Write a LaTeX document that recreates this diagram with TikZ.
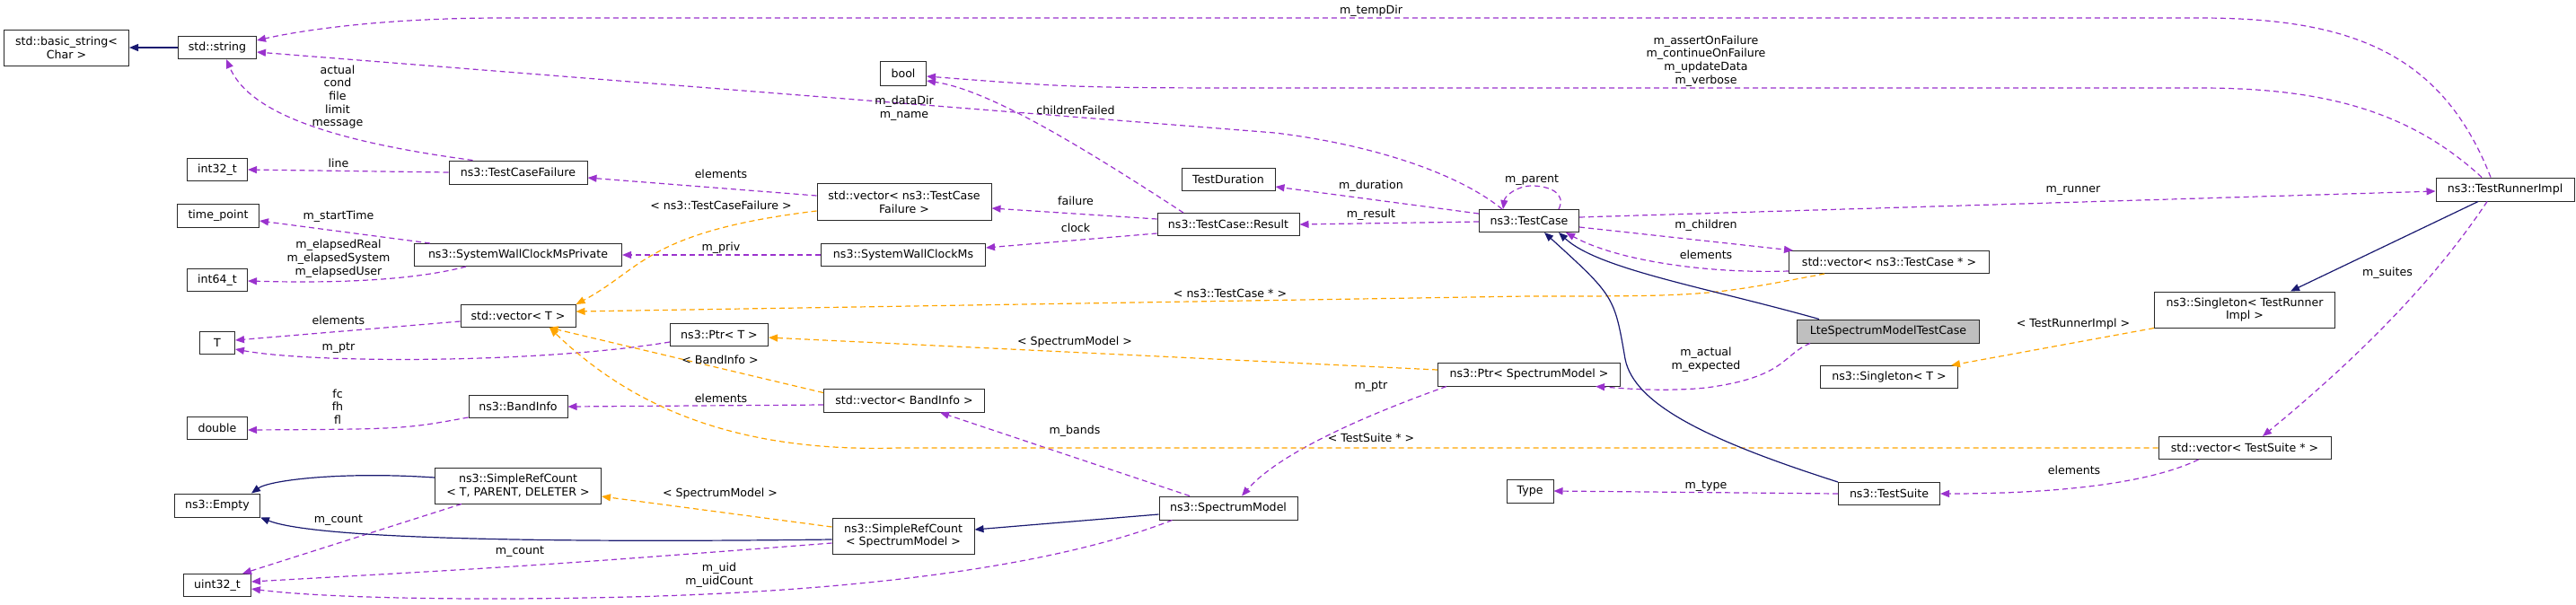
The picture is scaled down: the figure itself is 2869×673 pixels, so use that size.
\documentclass[tikz,border=0pt]{standalone}
\usepackage{fontspec}
\setmainfont{DejaVu Sans}
\usetikzlibrary{arrows.meta,calc}
\definecolor{use}{HTML}{9A32CD}
\definecolor{tpl}{HTML}{FFA500}
\definecolor{inh}{HTML}{191970}
\begin{document}
\begin{tikzpicture}[x=1pt,y=-1pt,
  every node/.style={font=\fontsize{12.6}{14.7}\selectfont},
  box/.style={draw={rgb,255:red,40;green,40;blue,40},line width=1pt,fill=white,inner sep=0pt,align=center},
  lbl/.style={inner sep=0pt,align=center,fill=none},
  us/.style={draw=use,line width=1.2pt,dash pattern=on 6pt off 4pt,-{Triangle[length=10pt,width=8pt]}},
  tp/.style={draw=tpl,line width=1.2pt,dash pattern=on 6pt off 4pt,-{Triangle[length=10pt,width=8pt]}},
  ih/.style={draw=inh,line width=1.2pt,-{Triangle[length=10pt,width=8pt]}}]
\useasboundingbox (0,0) rectangle (2869,673);
% nodes
\node[box,minimum width=139,minimum height=40] (bs) at (74,53) {std::basic\_string\textless\\Char \textgreater};
\node[box,minimum width=87,minimum height=25] (str) at (242,53) {std::string};
\node[box,minimum width=67,minimum height=25] (i32) at (242,189) {int32\_t};
\node[box,minimum width=154,minimum height=26] (tcf) at (577,192) {ns3::TestCaseFailure};
\node[box,minimum width=91,minimum height=26] (tpn) at (243,240) {time\_point};
\node[box,minimum width=231,minimum height=25] (swcmp) at (577,284) {ns3::SystemWallClockMsPrivate};
\node[box,minimum width=67,minimum height=25] (i64) at (242,312) {int64\_t};
\node[box,minimum width=128,minimum height=25] (vT) at (577,352) {std::vector\textless{} T \textgreater};
\node[box,minimum width=39,minimum height=25] (T) at (242,382) {T};
\node[box,minimum width=109,minimum height=25] (ptrT) at (801,373) {ns3::Ptr\textless{} T \textgreater};
\node[box,minimum width=110,minimum height=25] (bi) at (577,453) {ns3::BandInfo};
\node[box,minimum width=67,minimum height=25] (dbl) at (242,477) {double};
\node[box,minimum width=185,minimum height=40] (srcT) at (577,541) {ns3::SimpleRefCount\\\textless{} T, PARENT, DELETER \textgreater};
\node[box,minimum width=95,minimum height=26] (emp) at (242,563) {ns3::Empty};
\node[box,minimum width=75,minimum height=25] (u32) at (242,652) {uint32\_t};
\node[box,minimum width=51,minimum height=27] (bool) at (1006,82) {bool};
\node[box,minimum width=194,minimum height=41] (vtcf) at (1007,225) {std::vector\textless{} ns3::TestCase\\Failure \textgreater};
\node[box,minimum width=183,minimum height=25] (swcm) at (1006,284) {ns3::SystemWallClockMs};
\node[box,minimum width=104,minimum height=25] (td) at (1368,200) {TestDuration};
\node[box,minimum width=158,minimum height=25] (res) at (1368,250) {ns3::TestCase::Result};
\node[box,minimum width=111,minimum height=25] (tc) at (1703,246) {ns3::TestCase};
\node[box,minimum width=203,minimum height=26] (ptrS) at (1703,417) {ns3::Ptr\textless{} SpectrumModel \textgreater};
\node[box,minimum width=179,minimum height=26] (vbi) at (1007,446) {std::vector\textless{} BandInfo \textgreater};
\node[box,minimum width=154,minimum height=26] (sm) at (1368,566) {ns3::SpectrumModel};
\node[box,minimum width=158,minimum height=40] (srcS) at (1006,597) {ns3::SimpleRefCount\\\textless{} SpectrumModel \textgreater};
\node[box,minimum width=52,minimum height=26] (type) at (1704,547) {Type};
\node[box,minimum width=154,minimum height=26] (tri) at (2790,211) {ns3::TestRunnerImpl};
\node[box,minimum width=223,minimum height=25] (vtc) at (2104,292) {std::vector\textless{} ns3::TestCase * \textgreater};
\node[box,minimum width=203,minimum height=26,fill={rgb,255:red,191;green,191;blue,191}] (lte) at (2103,369) {LteSpectrumModelTestCase};
\node[box,minimum width=201,minimum height=40] (sgl) at (2500,345) {ns3::Singleton\textless{} TestRunner\\Impl \textgreater};
\node[box,minimum width=153,minimum height=25] (sglT) at (2104,420) {ns3::Singleton\textless{} T \textgreater};
\node[box,minimum width=192,minimum height=25] (vts) at (2500,499) {std::vector\textless{} TestSuite * \textgreater};
\node[box,minimum width=113,minimum height=25] (ts) at (2104,550) {ns3::TestSuite};
% purple usage edges
\draw[us] ($(tri.north)+(-16,0)$) .. controls (2720,60) and (2620,20) .. (2450,20) -- (560,20) .. controls (420,20) and (330,35) .. ($(str.east)+(0,-8)$);
\draw[us] ($(tri.north)+(-26,0)$) .. controls (2680,120) and (2580,98) .. (2450,98) -- (1450,98) .. controls (1200,98) .. ($(bool.east)+(0,3)$);
\draw[us] ($(tc.north)+(-30,0)$) .. controls (1620,190) and (1520,160) .. (1420,148) -- ($(str.east)+(0,5)$);
\draw[us] ($(res.north)+(-50,0)$) .. controls (1200,160) and (1100,100) .. ($(bool.east)+(0,8)$);
\draw[us] ($(tcf.north west)+(27,0)$) .. controls (350,155) and (275,120) .. ($(str.south)+(10,0)$);
\draw[us] (tcf.west) -- (i32.east);
\draw[us] ($(vtcf.west)+(0,-7)$) -- ($(tcf.east)+(0,6)$);
\draw[us] ($(res.west)+(0,-6)$) -- ($(vtcf.east)+(0,7)$);
\draw[us] ($(res.west)+(0,10)$) -- ($(swcm.east)+(0,-8)$);
\draw[us] (swcm.west) -- (swcmp.east);
\draw[us] ($(swcmp.north west)+(18,0)$) -- ($(tpn.east)+(0,6)$);
\draw[us] ($(swcmp.south west)+(58,0)$) .. controls (450,315) and (350,315) .. ($(i64.east)+(0,1)$);
\draw[us] ($(tc.west)+(0,-8)$) -- ($(td.east)+(0,8)$);
\draw[us] ($(tc.west)+(0,1)$) -- (res.east);
\draw[us] ($(tc.north)+(33,0)$) .. controls (1745,215) and (1725,207) .. (1706,207) .. controls (1690,207) and (1676,218) .. ($(tc.north)+(-29,0)$);
\draw[us] ($(tc.east)+(0,-4)$) -- ($(tri.west)+(0,2)$);
\draw[us] ($(tc.east)+(0,7)$) -- ($(vtc.north west)+(5,0)$);
\draw[us] ($(vtc.west)+(0,10)$) .. controls (1900,305) and (1800,290) .. ($(tc.south east)+(-15,0)$);
\draw[us] ($(lte.south west)+(15,0)$) .. controls (1985,395) and (1990,420) .. (1900,432) .. controls (1850,437) and (1800,432) .. ($(ptrS.south east)+(-28,0)$);
\draw[us] ($(ptrS.south west)+(10,0)$) .. controls (1500,470) and (1420,510) .. ($(sm.north)+(15,0)$);
\draw[us] ($(sm.north)+(-43,0)$) -- ($(vbi.south)+(40,0)$);
\draw[us] ($(vbi.west)+(0,5)$) -- (bi.east);
\draw[us] ($(bi.south west)+(0,-1)$) .. controls (450,478) .. ($(dbl.east)+(0,2)$);
\draw[us] ($(ptrT.west)+(0,8)$) .. controls (600,405) and (350,405) .. ($(T.east)+(0,7)$);
\draw[us] ($(vT.west)+(0,6)$) -- ($(T.east)+(0,-3)$);
\draw[us] ($(srcT.south west)+(30,0)$) -- ($(u32.north east)+(-10,0)$);
\draw[us] ($(srcS.west)+(0,8)$) .. controls (600,630) .. ($(u32.east)+(0,-4)$);
\draw[us] ($(sm.south west)+(15,0)$) .. controls (1150,640) and (900,660) .. (700,665) .. controls (500,670) and (350,665) .. ($(u32.east)+(0,4)$);
\draw[us] ($(tri.south)+(-20,0)$) .. controls (2700,330) and (2600,420) .. ($(vts.north)+(20,0)$);
\draw[us] ($(vts.south west)+(45,0)$) .. controls (2380,545) and (2250,550) .. (ts.east);
\draw[us] (ts.west) -- (type.east);
% orange template edges
\draw[tp] ($(vtcf.west)+(0,10)$) .. controls (720,258) and (715,300) .. (vT.north east);
\draw[tp] ($(vtc.south west)+(40,0)$) .. controls (1900,330) .. (1700,330) -- ($(vT.east)+(0,-5)$);
\draw[tp] ($(ptrS.west)+(0,-5)$) -- ($(ptrT.east)+(0,3)$);
\draw[tp] ($(vbi.north west)+(0,5)$) -- ($(vT.south east)+(-30,0)$);
\draw[tp] (vts.west) -- (1000,499) .. controls (800,505) and (690,440) .. ($(vT.south)+(35,0)$);
\draw[tp] ($(srcS.west)+(0,-10)$) -- ($(srcT.east)+(0,12)$);
\draw[tp] (sgl.south west) -- ($(sglT.north east)+(-8,0)$);
% inheritance edges
\draw[ih] (str.west) -- (bs.east);
\draw[ih] ($(srcT.west)+(0,-9)$) .. controls (380,525) and (300,535) .. ($(emp.north east)+(-10,0)$);
\draw[ih] ($(srcS.west)+(0,4)$) .. controls (600,605) and (350,600) .. (emp.south east);
\draw[ih] ($(sm.west)+(0,7)$) -- ($(srcS.east)+(0,-7)$);
\draw[ih] ($(lte.north west)+(25,0)$) .. controls (1900,320) and (1780,300) .. ($(tc.south)+(33,0)$);
\draw[ih] (ts.north west) .. controls (1900,490) and (1820,450) .. (1810,400) .. controls (1798,330) .. ($(tc.south)+(17,0)$);
\draw[ih] ($(tri.south)+(-30,0)$) -- ($(sgl.north east)+(-50,0)$);
% labels
\node[lbl] (l1) at (1527,12) {m\_tempDir};
\node[lbl] (l2) at (1900,68) {m\_assertOnFailure\\m\_continueOnFailure\\m\_updateData\\m\_verbose};
\node[lbl] (l3) at (1007,121) {m\_dataDir\\m\_name};
\node[lbl] (l4) at (1198,123) {childrenFailed};
\node[lbl] (l5) at (376,108) {actual\\cond\\file\\limit\\message};
\node[lbl] (l6) at (377,182) {line};
\node[lbl] (l7) at (803,194) {elements};
\node[lbl] (l8) at (803,229) {\textless{} ns3::TestCaseFailure \textgreater};
\node[lbl] (l9) at (377,241) {m\_startTime};
\node[lbl] (l10) at (377,288) {m\_elapsedReal\\m\_elapsedSystem\\m\_elapsedUser};
\node[lbl] (l11) at (803,276) {m\_priv};
\node[lbl] (l12) at (1527,207) {m\_duration};
\node[lbl] (l13) at (1198,224) {failure};
\node[lbl] (l14) at (1527,239) {m\_result};
\node[lbl] (l15) at (1198,254) {clock};
\node[lbl] (l16) at (1706,201) {m\_parent};
\node[lbl] (l17) at (2309,212) {m\_runner};
\node[lbl] (l18) at (1900,251) {m\_children};
\node[lbl] (l19) at (1900,284) {elements};
\node[lbl] (l20) at (1370,327) {\textless{} ns3::TestCase * \textgreater};
\node[lbl] (l21) at (2659,304) {m\_suites};
\node[lbl] (l22) at (2309,361) {\textless{} TestRunnerImpl \textgreater};
\node[lbl] (l23) at (377,357) {elements};
\node[lbl] (l24) at (377,388) {m\_ptr};
\node[lbl] (l25) at (802,401) {\textless{} BandInfo \textgreater};
\node[lbl] (l26) at (1197,381) {\textless{} SpectrumModel \textgreater};
\node[lbl] (l27) at (1900,401) {m\_actual\\m\_expected};
\node[lbl] (l28) at (1527,431) {m\_ptr};
\node[lbl] (l29) at (376,453) {fc\\fh\\fl};
\node[lbl] (l30) at (803,444) {elements};
\node[lbl] (l31) at (1197,480) {m\_bands};
\node[lbl] (l32) at (1527,488) {\textless{} TestSuite * \textgreater};
\node[lbl] (l33) at (2310,524) {elements};
\node[lbl] (l34) at (1900,542) {m\_type};
\node[lbl] (l35) at (802,550) {\textless{} SpectrumModel \textgreater};
\node[lbl] (l36) at (377,580) {m\_count};
\node[lbl] (l37) at (579,615) {m\_count};
\node[lbl] (l38) at (801,641) {m\_uid\\m\_uidCount};
\end{tikzpicture}
\end{document}
